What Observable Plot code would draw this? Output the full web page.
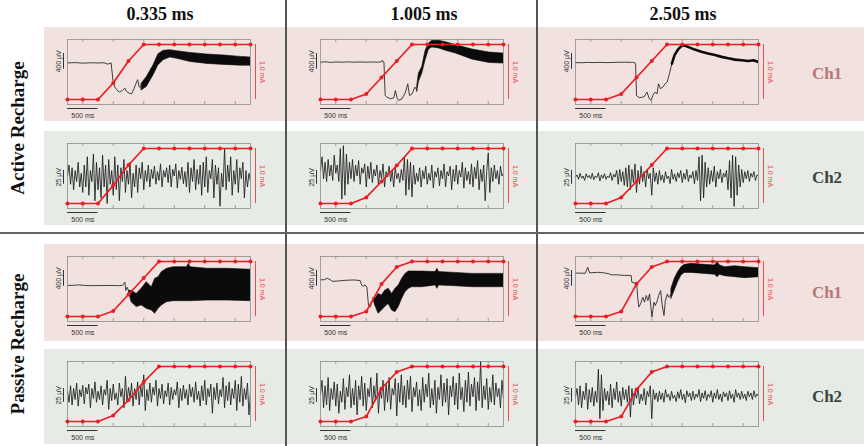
<!DOCTYPE html>
<html><head><meta charset="utf-8">
<script src="https://cdn.jsdelivr.net/npm/d3@7"></script>
<script src="https://cdn.jsdelivr.net/npm/@observablehq/plot@0.6"></script>
<style>
body{margin:0;background:#fff;}
#root{position:relative;width:864px;height:446px;overflow:hidden;font-family:"Liberation Serif","Times New Roman",serif;background:#fff;}
.band{position:absolute;left:44px;width:820px;}
.hdr{position:absolute;top:4px;width:200px;margin-left:-100px;text-align:center;font-weight:bold;font-size:18px;color:#111;}
.rowlab{position:absolute;width:200px;margin-left:-100px;text-align:center;font-weight:bold;font-size:19px;color:#111;transform:rotate(-90deg);line-height:22px;margin-top:-11px;}
.chlab{position:absolute;width:80px;margin-left:-40px;text-align:center;font-weight:bold;font-size:17px;line-height:20px;margin-top:-10px;}
.vsep{position:absolute;top:0;width:1.5px;height:446px;background:#555;}
.hsep{position:absolute;left:0;width:864px;height:2px;background:#666;}
svg{position:absolute;}
</style></head><body><div id="root"></div>
<script>
// ---------- labels ----------
const columns = ["0.335 ms", "1.005 ms", "2.505 ms"];
const rowGroups = ["Active Recharge", "Passive Recharge"];
const channels = ["Ch1", "Ch2"];
const stimTimes = [0,250,500,750,1000,1250,1500,1750,2000,2250,2500,2750,3000]; // ms
const tickTimes = [250,750,1250,1750,2250,2750]; // ms

// ---------- stimulation current (mA) at stimTimes ----------
const current_A_c1_ch1 = [0,0,0,0.30,0.70,1,1,1,1,1,1,1,1];
const current_A_c2_ch1 = [0,0,0,0.10,0.40,0.70,1,1,1,1,1,1,1];
const current_A_c3_ch1 = [0,0,0,0.10,0.40,0.70,1,1,1,1,1,1,1];
const current_A_c1_ch2 = [0,0,0,0.33,0.70,1,1,1,1,1,1,1,1];
const current_A_c2_ch2 = [0,0,0,0.11,0.40,0.69,1,1,1,1,1,1,1];
const current_A_c3_ch2 = [0,0,0,0.11,0.40,0.70,1,1,1,1,1,1,1];
const current_P_c1_ch1 = [0,0,0,0.10,0.40,0.70,1,1,1,1,1,1,1];
const current_P_c2_ch1 = [0,0,0,0.09,0.59,0.90,1,1,1,1,1,1,1];
const current_P_c3_ch1 = [0,0,0,0.09,0.59,0.90,1,1,1,1,1,1,1];
const current_P_c1_ch2 = [0,0,0,0.11,0.39,0.72,1,1,1,1,1,1,1];
const current_P_c2_ch2 = [0,0,0,0.09,0.60,0.90,1,1,1,1,1,1,1];
const current_P_c3_ch2 = [0,0,0,0.09,0.58,0.90,1,1,1,1,1,1,1];

// ---------- Ch1 traces: thin segments [ms, uV], fast-oscillation envelopes [ms, low uV, high uV] ----------
const ch1Thin_A_c1 = [[0,930],[120,940],[250,925],[380,935],[500,930],[600,935],[660,900],[700,925],[715,930],[745,490],[775,320],[800,270],[830,210],[855,190],[900,230],[940,290],[965,210],[1010,160],[1050,145],[1090,275],[1120,400],[1150,505],[1175,315],[1215,335]];
const ch1Band_A_c1 = [[1215,230,400],[1300,320,570],[1410,615,870],[1490,870,1150],[1575,1000,1240],[1685,1070,1255],[1795,1035,1230],[2015,955,1185],[2295,905,1145],[2570,880,1120],[2845,860,1085],[3000,860,1070]];

const ch1Thin_A_c2 = [[0,950],[80,960],[170,945],[250,955],[350,950],[450,958],[550,950],[650,955],[750,950],[850,955],[930,950],[1000,960],[1015,1000],[1030,955],[1040,955],[1060,100],[1090,60],[1145,20],[1200,40],[1228,230],[1255,40],[1283,-25],[1338,20],[1393,190],[1431,400],[1459,100],[1503,145],[1547,315],[1585,230]];
const ch1Band_A_c2 = [[1585,200,330],[1613,445,660],[1668,660,830],[1695,830,1040],[1723,1000,1240],[1778,1270,1425],[1833,1325,1495],[1943,1300,1495],[2053,1240,1460],[2219,1170,1385],[2494,1015,1270],[2769,930,1195],[3000,915,1170]];

const ch1Thin_A_c3 = [[0,940],[100,935],[200,945],[300,940],[400,945],[500,938],[600,942],[700,948],[800,950],[900,945],[935,950],[975,930],[985,900],[1000,100],[1046,45],[1101,60],[1128,75],[1172,190],[1211,15],[1239,-25],[1266,100],[1305,190],[1338,145],[1360,400],[1393,275],[1431,315],[1470,400],[1503,445],[1541,660],[1580,915]];
const ch1Thick_A_c3 = [[1580,915],[1624,1130],[1679,1270],[1734,1360],[1789,1375],[1844,1340],[1954,1270],[2064,1215],[2174,1170],[2285,1130],[2395,1085],[2505,1050],[2615,1015],[2725,1000],[2835,980],[2918,1000],[3000,955]];

const ch1Thin_P_c1 = [[0,790],[100,795],[190,805],[280,790],[400,785],[550,788],[700,790],[850,785],[900,790],[940,875],[956,660],[978,745],[1011,620]];
const ch1Band_P_c1 = [[1011,600,640],[1050,365,660],[1133,240,575],[1215,280,705],[1298,195,875],[1381,155,745],[1437,70,960],[1492,195,1000],[1547,280,1130],[1630,365,1215],[1740,390,1255],[1961,390,1255],[1989,390,1340],[2017,390,1255],[2293,405,1215],[2624,405,1215],[3000,390,1190]];

const ch1Thin_P_c2 = [[0,935],[60,935],[110,975],[165,930],[200,895],[260,900],[350,915],[450,925],[550,930],[650,915],[677,790],[705,770],[732,805],[760,745],[787,280],[815,240],[842,365],[870,450]];
const ch1Band_P_c2 = [[870,420,470],[897,280,450],[952,70,575],[1007,155,535],[1062,240,660],[1118,320,705],[1173,155,575],[1228,110,705],[1283,240,790],[1338,450,960],[1393,620,1085],[1448,705,1145],[1503,745,1145],[1668,745,1145],[1888,790,1130],[1916,705,1215],[1943,790,1130],[2219,770,1110],[2494,745,1085],[3000,745,1085]];

const ch1Thin_P_c3 = [[0,1100],[30,1105],[160,1100],[200,1255],[230,1110],[363,1125],[473,1110],[555,1085],[582,1060],[692,1060],[802,1045],[912,1045],[923,875],[967,850],[1000,875],[1022,450],[1039,240],[1066,320],[1104,490],[1132,365],[1160,535],[1187,405],[1214,575],[1253,-15],[1286,365],[1308,280],[1341,405],[1363,535],[1396,660],[1418,320],[1451,25],[1473,405],[1506,575],[1528,490],[1572,580]];
const ch1Band_P_c3 = [[1572,450,705],[1627,660,960],[1682,875,1130],[1737,1045,1255],[1791,1110,1315],[1901,1110,1340],[2121,1085,1315],[2286,1060,1300],[2330,1000,1385],[2368,1060,1300],[2451,1025,1255],[2616,1000,1280],[2780,975,1255],[3000,1000,1230]];

// ---------- Ch2 traces: uV sampled every 25 ms from 0 to 3000 ms ----------
const ch2_A_c1 = [50,70,35,65,25,60,40,75,30,55,20, 70,30,85,15,60,40,90,5,75,25,65, 10,88,30,70,0,80,35,60,15,85,25, 70,5,65,40,80,20,60,35,75,10,55, 30,70,20,65,45,75,25,60,40,70,30, 62,45,68,35,58,42,72,30,60,48,65, 38,70,30,62,50,72,28,60,44,66,36, 58,30,75,20,65,40,80,25,62,35,70, 15,75,30,85,20,60,45,80,10,70,35, 65,-5,55,30,100,25,70,40,85,15,60, 35,80,20,65,45,75,10,60,30,55,40];
const ch2_A_c2 = [60,85,45,75,40,80,50,70,42,88,55, 70,40,100,8,105,15,90,35,75,45,80, 40,70,50,78,35,65,55,72,30,68,45, 75,38,62,50,70,35,60,45,72,30,58, 48,68,40,60,30,65,45,55,38,62,42, 85,15,80,25,75,12,70,35,55,40,65, 30,60,45,68,35,55,42,70,28,58,48, 65,32,60,45,72,30,58,50,68,25,62, 40,70,35,60,48,75,28,65,42,58,35, 72,30,66,45,78,25,62,40,70,5,60, 92,20,65,40,70,45,60,35,68,50,55];
const ch2_A_c3 = [48,52,44,55,46,50,42,54,47,51,45, 55,43,50,47,56,41,52,46,54,44,50, 47,56,42,53,48,60,35,62,40,58,33, 65,30,70,25,62,38,72,20,60,35,68, 40,58,30,62,45,55,15,65,40,56,35, 60,42,52,38,58,45,50,36,62,44,54, 40,56,47,60,38,55,44,62,40,52,46, 58,36,60,42,85,5,88,10,75,30,65, 35,60,40,68,30,58,45,62,38,55,48, 60,25,78,10,88,-5,85,15,70,30,62, 38,58,45,60,40,55,48,58,42,52,50];
const ch2_P_c1 = [55,35,65,30,60,40,70,28,58,45,66, 32,62,50,68,25,60,42,72,35,55,40, 65,30,58,48,75,22,60,38,68,40,52, 30,70,45,60,25,82,35,62,42,70,28, 60,40,72,30,65,45,85,20,58,38,70, 35,62,48,75,28,60,42,68,32,56,45, 70,30,62,40,58,48,72,25,60,38,66, 42,58,30,68,45,62,35,72,40,55,28, 65,38,75,30,60,45,68,15,62,40,70, 32,58,45,80,25,65,38,72,30,60,42, 75,20,68,35,82,28,60,40,70,12,55];
const ch2_P_c2 = [50,75,25,65,30,80,20,60,40,72,28, 68,15,55,35,78,22,62,45,85,25,60, 30,75,12,65,40,82,28,70,20,60,45, 80,25,65,38,88,15,58,42,75,20,68, 35,80,22,60,48,78,10,70,35,85,30, 65,25,75,40,82,18,62,45,72,28,58, 20,80,35,68,45,88,25,60,30,75,15, 62,40,85,28,70,35,78,12,65,45,82, 30,70,22,88,40,62,18,75,35,90,28, 68,45,80,20,72,38,110,25,65,40,78, 22,62,35,85,30,70,45,60,25,75,40];
const ch2_P_c3 = [45,60,30,65,25,55,40,70,22,58,35, 62,28,55,35,95,5,85,20,60,38,55, 30,68,25,60,40,72,35,55,28,62,40, 58,35,65,8,60,30,55,42,62,32,50, 38,60,30,55,45,65,5,58,40,52,36, 55,40,52,35,58,44,50,38,55,42,48, 36,54,42,58,40,50,34,56,45,52,38, 55,40,50,44,58,36,52,42,56,38,50, 44,56,35,52,42,58,40,50,36,54,45, 52,38,56,42,50,35,58,44,52,40,55, 42,50,38,55,45,52,40,56,44,50,46];

// ---------- scale bars ----------
const ch1Bar = {label: "400 µV", from: 770, to: 1170};
const ch2Bar = {label: "25 µV", from: 35, to: 60};
const timeBar = {label: "500 ms", from: 0, to: 500};
const currentBar = {label: "1.0 mA", from: 0, to: 1};

// ---------- layout ----------
const boxLeft = [67, 320, 575];
const bandTop = [27, 131, 244, 349];
const bandH = [94, 94, 97, 95];
const bandColor = ["#f1e2e0", "#e6ebe5", "#f1e2e0", "#e6ebe5"];
const headerX = [160, 424, 683];
const RED = "#ec1c24";

const panels = [
  {r:0,c:0,ch:1,cur:current_A_c1_ch1,thin:ch1Thin_A_c1,band:ch1Band_A_c1},
  {r:0,c:1,ch:1,cur:current_A_c2_ch1,thin:ch1Thin_A_c2,band:ch1Band_A_c2},
  {r:0,c:2,ch:1,cur:current_A_c3_ch1,thin:ch1Thin_A_c3,thick:ch1Thick_A_c3},
  {r:1,c:0,ch:2,cur:current_A_c1_ch2,noise:ch2_A_c1},
  {r:1,c:1,ch:2,cur:current_A_c2_ch2,noise:ch2_A_c2},
  {r:1,c:2,ch:2,cur:current_A_c3_ch2,noise:ch2_A_c3},
  {r:2,c:0,ch:1,cur:current_P_c1_ch1,thin:ch1Thin_P_c1,band:ch1Band_P_c1},
  {r:2,c:1,ch:1,cur:current_P_c2_ch1,thin:ch1Thin_P_c2,band:ch1Band_P_c2},
  {r:2,c:2,ch:1,cur:current_P_c3_ch1,thin:ch1Thin_P_c3,band:ch1Band_P_c3},
  {r:3,c:0,ch:2,cur:current_P_c1_ch2,noise:ch2_P_c1},
  {r:3,c:1,ch:2,cur:current_P_c2_ch2,noise:ch2_P_c2},
  {r:3,c:2,ch:2,cur:current_P_c3_ch2,noise:ch2_P_c3}
];

const root = document.getElementById("root");
function addDiv(cls, css, text) {
  const d = document.createElement("div");
  d.className = cls; Object.assign(d.style, css);
  if (text) d.textContent = text;
  root.appendChild(d); return d;
}
bandTop.forEach((t, i) => addDiv("band", {top: t + "px", height: bandH[i] + "px", background: bandColor[i]}));
columns.forEach((t, i) => addDiv("hdr", {left: headerX[i] + "px"}, t));
addDiv("rowlab", {left: "18px", top: "128px"}, rowGroups[0]);
addDiv("rowlab", {left: "18px", top: "344px"}, rowGroups[1]);
bandTop.forEach((t, i) => {
  const isCh1 = i % 2 === 0;
  addDiv("chlab", {left: "827px", top: (t + bandH[i] / 2) + "px", color: isCh1 ? "#b67779" : "#3b4640"}, isCh1 ? channels[0] : channels[1]);
});

for (const p of panels) {
  const S = p.ch === 1 ? 1400 : 100;          // uV per 1 mA of the current axis
  const lo = -S * 5 / 55, hi = S * 60 / 55;
  const tick = S * 3 / 55;
  const bar = p.ch === 1 ? ch1Bar : ch2Bar;
  const stim = stimTimes.map((t, i) => ({t, ma: p.cur[i]}));
  const marks = [];
  if (p.band) marks.push(Plot.areaY(p.band, {x: d => d[0], y1: d => d[1], y2: d => d[2], fill: "#0b0b0b", stroke: "#0b0b0b", strokeWidth: 0.6, clip: true}));
  if (p.thin) marks.push(Plot.line(p.thin, {x: d => d[0], y: d => d[1], stroke: "#2b2b2b", strokeWidth: 0.9, clip: true}));
  if (p.thick) marks.push(Plot.line(p.thick, {x: d => d[0], y: d => d[1], stroke: "#0b0b0b", strokeWidth: 2.6, clip: true}));
  if (p.noise) marks.push(Plot.line(p.noise, {x: (d, i) => i * 25, y: d => d, stroke: "#1c1c1c", strokeWidth: 0.85, clip: true}));
  marks.push(
    Plot.frame({stroke: "#8c8c8c", strokeWidth: 0.8}),
    Plot.ruleX(tickTimes, {y1: lo, y2: lo + tick, stroke: "#8c8c8c", strokeWidth: 0.8}),
    Plot.ruleX(tickTimes, {y1: hi, y2: hi - tick, stroke: "#8c8c8c", strokeWidth: 0.8}),
    Plot.line(stim, {x: "t", y: d => d.ma * S, stroke: RED, strokeWidth: 1.7}),
    Plot.dot(stim, {x: "t", y: d => d.ma * S, fill: RED, r: 2, stroke: null}),
    // current scale bar
    Plot.ruleX([3000], {y1: currentBar.from * S, y2: currentBar.to * S, dx: 5, stroke: "#ee4a4f", strokeWidth: 1}),
    Plot.text([currentBar.label], {x: 3000, y: 0.5 * S, dx: 12, rotate: 90, fill: "#ee4a4f", fontSize: 7}),
    // voltage scale bar
    Plot.ruleX([0], {y1: bar.from, y2: bar.to, dx: -4, stroke: "#333", strokeWidth: 1}),
    Plot.text([bar.label], {x: 0, y: (bar.from + bar.to) / 2, dx: -9, rotate: -90, fill: "#333", fontSize: 7}),
    // time scale bar
    Plot.ruleY([lo], {x1: timeBar.from, x2: timeBar.to, dy: 4, stroke: "#333", strokeWidth: 1}),
    Plot.text([timeBar.label], {x: (timeBar.from + timeBar.to) / 2, y: lo, dy: 11, fill: "#333", fontSize: 7})
  );
  const svg = Plot.plot({
    width: 243, height: 95,
    marginLeft: 30, marginRight: 30, marginTop: 12, marginBottom: 18,
    x: {domain: [0, 3000], axis: null},
    y: {domain: [lo, hi], axis: null},
    style: {background: "transparent", overflow: "visible", fontFamily: "'Liberation Sans', Arial, sans-serif"},
    marks
  });
  svg.style.position = "absolute";
  svg.style.left = (boxLeft[p.c] - 30) + "px";
  svg.style.top = bandTop[p.r] + "px";
  root.appendChild(svg);
}
addDiv("vsep", {left: "285px"});
addDiv("vsep", {left: "536px"});
addDiv("hsep", {top: "232px"});
</script></body></html>
